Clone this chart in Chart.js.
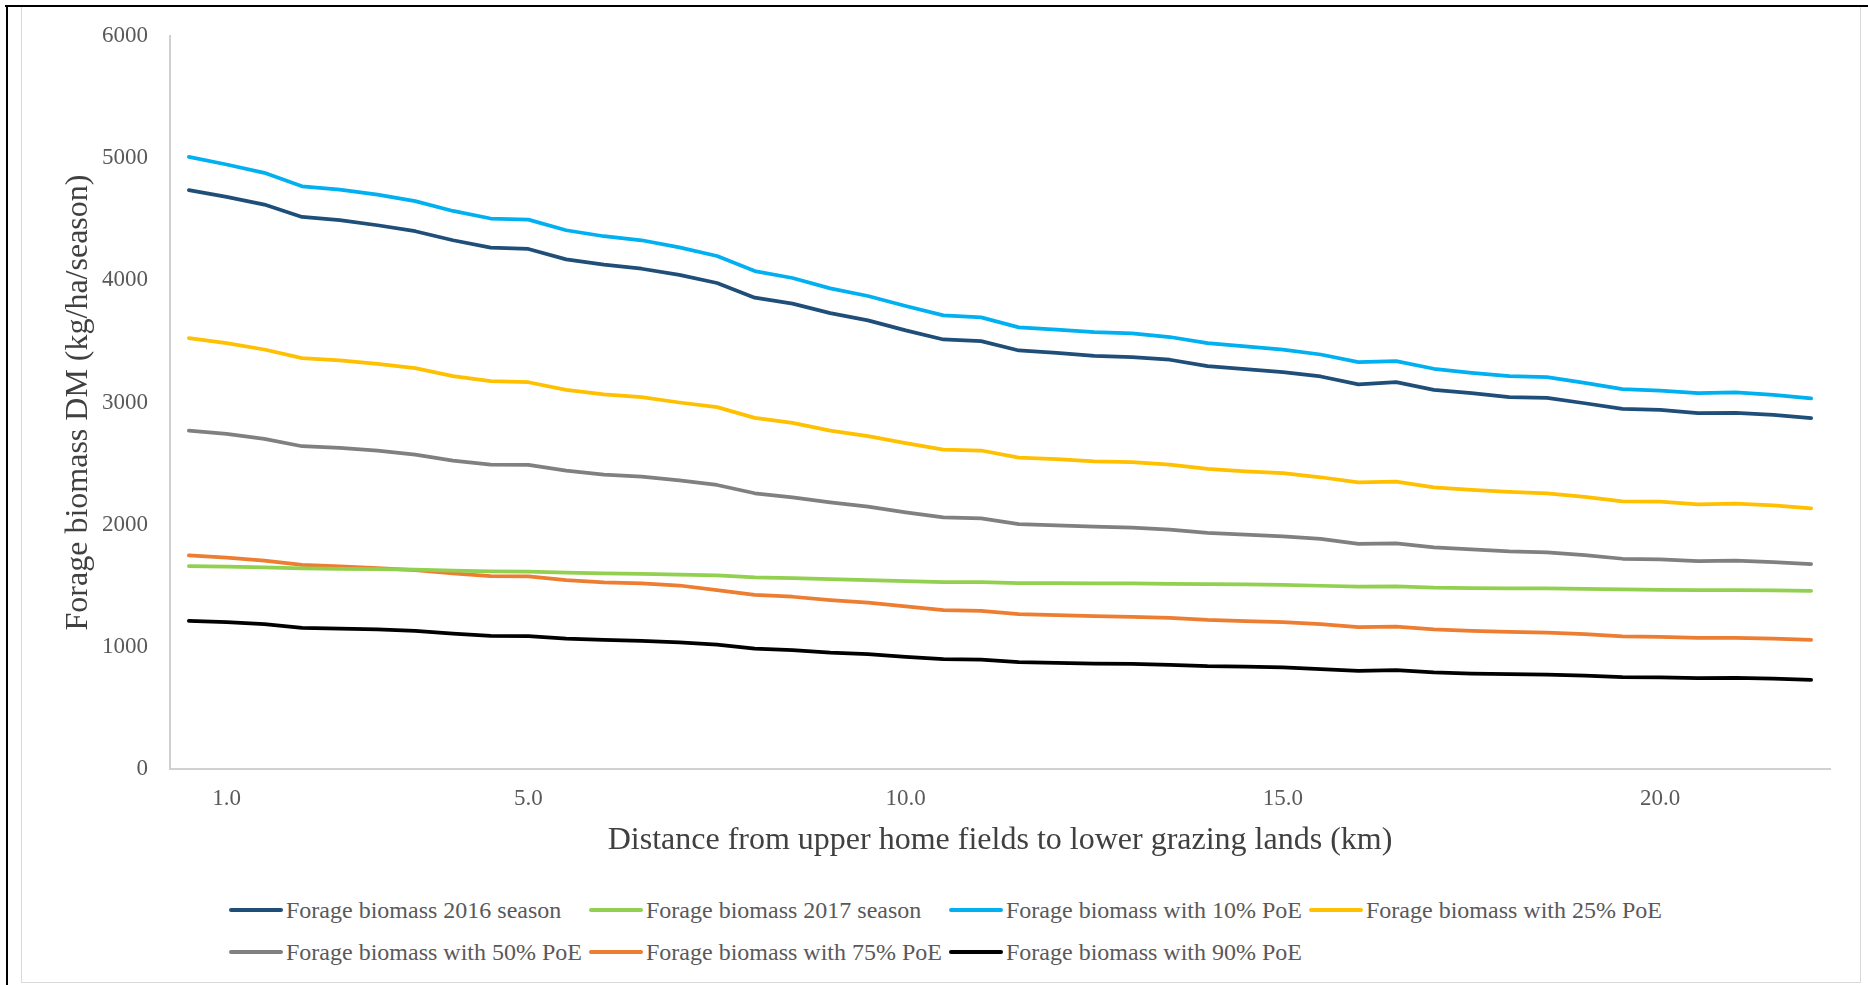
<!DOCTYPE html>
<html>
<head>
<meta charset="utf-8">
<script src="https://cdn.jsdelivr.net/npm/chart.js@4.4.0/dist/chart.umd.min.js"></script>
<style>
  html, body { margin: 0; padding: 0; background: #fff; }
  body { width: 1868px; height: 985px; position: relative; overflow: hidden; font-family: 'Liberation Serif', 'Times New Roman', serif; }
  #blackTop { position: absolute; left: 5px; top: 5px; width: 1863px; height: 2px; background: #000; }
  #blackLeft { position: absolute; left: 6px; top: 5px; width: 2px; height: 980px; background: #000; }
  #frame { position: absolute; left: 21px; top: 7px; width: 1838px; height: 975px; border: 1px solid #d9d9d9; border-top: none; }
  #wrap { position: absolute; left: 22px; top: 7px; width: 1838px; height: 870px; }
  #legend { position: absolute; left: 229px; top: 889px; display: grid; grid-template-columns: repeat(4, 360px); grid-auto-rows: 42px; }
  .item { display: flex; align-items: center; white-space: nowrap; font-size: 24px; color: #595959; }
  .swatch { width: 54px; height: 3.5px; border-radius: 2px; margin-right: 3px; }
</style>
</head>
<body>
<div id="frame"></div>
<div id="blackTop"></div>
<div id="blackLeft"></div>
<div id="wrap"><canvas id="myChart"></canvas></div>
<div id="legend"></div>
<script>
// distance (km) categories
var distances = ['0.5','1.0','1.5','2.0','2.5','3.0','3.5','4.0','4.5','5.0','5.5',
  '6.0','6.5','7.0','7.5','8.0','8.5','9.0','9.5','10.0','10.5','11.0','11.5',
  '12.0','12.5','13.0','13.5','14.0','14.5','15.0','15.5','16.0','16.5','17.0',
  '17.5','18.0','18.5','19.0','19.5','20.0','20.5','21.0','21.5','22.0'];
var shownTicks = ['1.0','5.0','10.0','15.0','20.0'];
var yTicks = [0, 1000, 2000, 3000, 4000, 5000, 6000];

var biomass2016 = [4738,4683,4620,4519,4492,4451,4402,4328,4268,4257,4172,4128,4095,4045,
  3978,3858,3809,3732,3672,3590,3516,3502,3426,3407,3382,3372,3350,3298,3273,3249,3213,
  3148,3167,3104,3077,3044,3038,2994,2948,2940,2913,2916,2899,2872];
var biomass2017 = [1661,1656,1650,1642,1639,1637,1631,1623,1617,1615,1607,1601,1598,1591,
  1585,1568,1563,1555,1546,1538,1530,1530,1522,1522,1519,1519,1516,1514,1511,1508,1500,
  1492,1494,1484,1481,1478,1478,1475,1470,1467,1465,1465,1462,1459];
var poe10 = [5011,4948,4880,4770,4743,4702,4648,4568,4506,4497,4410,4361,4328,4270,
  4199,4076,4019,3934,3872,3790,3713,3697,3615,3596,3577,3566,3536,3486,3459,3432,3393,
  3330,3339,3276,3243,3216,3208,3161,3109,3098,3077,3082,3063,3033];
var poe25 = [3527,3486,3434,3363,3344,3317,3281,3216,3175,3166,3104,3066,3044,3000,
  2962,2874,2833,2770,2724,2667,2615,2607,2549,2536,2519,2511,2492,2456,2437,2421,2388,
  2347,2352,2306,2284,2268,2257,2227,2191,2189,2166,2172,2158,2134];
var poe50 = [2770,2743,2702,2642,2628,2607,2574,2525,2492,2489,2443,2410,2393,2363,
  2325,2257,2224,2183,2148,2101,2060,2052,2005,1995,1984,1975,1959,1932,1918,1904,1883,
  1842,1847,1814,1798,1781,1773,1751,1721,1716,1702,1705,1694,1678];
var poe75 = [1749,1730,1705,1670,1658,1644,1628,1601,1579,1576,1546,1527,1519,1502,
  1464,1426,1410,1383,1361,1331,1301,1295,1268,1260,1251,1246,1238,1221,1211,1202,1186,
  1161,1166,1142,1131,1123,1117,1104,1085,1082,1074,1074,1068,1057];
var poe90 = [1213,1202,1186,1156,1150,1142,1131,1109,1090,1087,1068,1057,1049,1036,
  1019,986,973,953,940,918,899,896,874,869,863,861,852,842,839,831,817,
  803,809,790,781,776,773,765,752,749,743,746,740,730];

var seriesNames = ['Forage biomass 2016 season','Forage biomass 2017 season',
  'Forage biomass with 10% PoE','Forage biomass with 25% PoE',
  'Forage biomass with 50% PoE','Forage biomass with 75% PoE','Forage biomass with 90% PoE'];
var seriesData = [biomass2016, biomass2017, poe10, poe25, poe50, poe75, poe90];
var seriesColors = ['#1F4E79','#92D050','#00B0F0','#FFC000','#808080','#ED7D31','#000000'];

var serif = "'Liberation Serif', 'Times New Roman', serif";

function makeDatasets(){
  var out = [];
  for (var i = 0; i < seriesNames.length; i++) {
    out.push({
      label: seriesNames[i],
      data: seriesData[i],
      borderColor: seriesColors[i],
      backgroundColor: seriesColors[i],
      borderWidth: 3.75,
      pointRadius: 0,
      tension: 0,
      fill: false,
      borderCapStyle: 'round',
      borderJoinStyle: 'round'
    });
  }
  return out;
}

function createChart(){
  var ctx = document.getElementById('myChart');
  var myChart = new Chart(ctx, {
    type: 'line',
    data: {
      labels: distances,
      datasets: makeDatasets()
    },
    options: {
      animation: false,
      responsive: true,
      maintainAspectRatio: false,
      layout: { padding: { top: 29, right: 30, left: 0, bottom: 0 } },
      plugins: {
        legend: { display: false },
        tooltip: { enabled: false }
      },
      scales: {
        x: {
          type: 'category',
          offset: true,
          grid: { display: false, drawTicks: false },
          border: { display: true, color: '#d0d0d0', width: 2 },
          ticks: {
            autoSkip: false,
            maxRotation: 0,
            padding: 16,
            color: '#595959',
            font: { family: serif, size: 23 },
            callback: function(val, idx){
              var lab = distances[idx];
              return shownTicks.indexOf(lab) >= 0 ? lab : '';
            }
          },
          title: {
            display: true,
            text: 'Distance from upper home fields to lower grazing lands (km)',
            color: '#404040',
            font: { family: serif, size: 32 },
            padding: { top: 0, bottom: 17 }
          },
          afterFit: function(scale){
            scale.height = 108;
            scale.paddingLeft = 0;
            scale.paddingRight = 0;
          }
        },
        y: {
          min: yTicks[0],
          max: yTicks[yTicks.length - 1],
          grid: { display: false, drawTicks: false },
          border: { display: true, color: '#d0d0d0', width: 2 },
          afterBuildTicks: function(scale){
            scale.ticks = yTicks.map(function(v){ return { value: v }; });
          },
          ticks: {
            padding: 22,
            color: '#595959',
            font: { family: serif, size: 23 },
            callback: function(v){ return String(v); }
          },
          title: {
            display: true,
            text: 'Forage biomass DM (kg/ha/season)',
            color: '#404040',
            font: { family: serif, size: 32 },
            padding: { top: 37, bottom: 0 }
          },
          afterFit: function(scale){
            scale.width = 148;
            scale.paddingTop = 0;
            scale.paddingBottom = 0;
          }
        }
      }
    }
  });
  buildLegend(myChart);
}

// html legend laid out in columns like the original
function buildLegend(chart){
  var box = document.getElementById('legend');
  chart.data.datasets.forEach(function(ds){
    var item = document.createElement('div');
    item.className = 'item';
    var sw = document.createElement('span');
    sw.className = 'swatch';
    sw.style.background = ds.borderColor;
    var tx = document.createElement('span');
    tx.textContent = ds.label;
    item.appendChild(sw);
    item.appendChild(tx);
    box.appendChild(item);
  });
}

createChart();
</script>
</body>
</html>
